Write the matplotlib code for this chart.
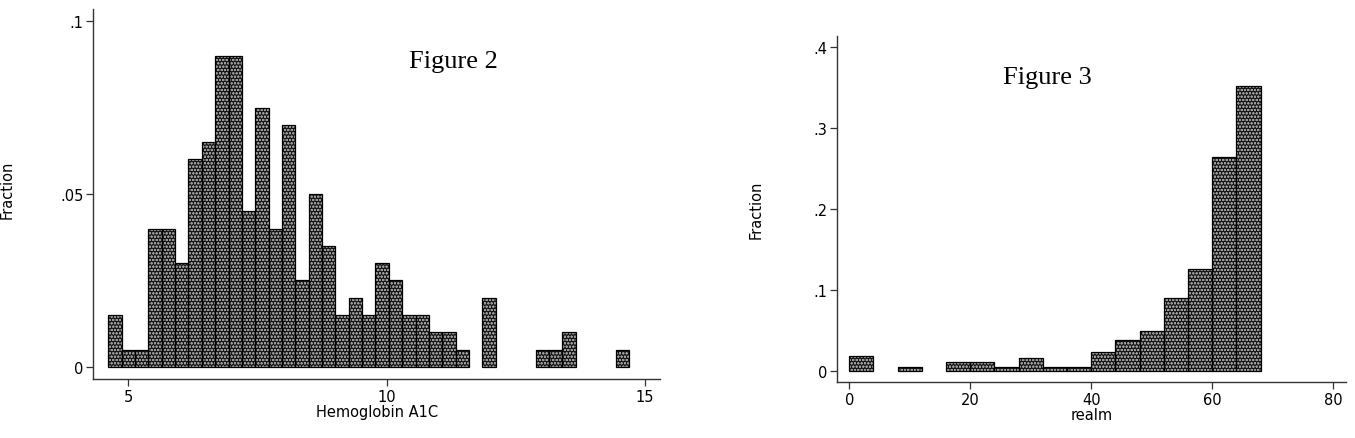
import numpy as np
import matplotlib
matplotlib.use('Agg')
import matplotlib.pyplot as plt

# Figure 2: Hemoglobin A1C, fraction per bin
a1c_start = 4.61
a1c_width = 0.2586
a1c_frac = [0.015, 0.005, 0.005, 0.04, 0.04, 0.03, 0.06, 0.065, 0.09, 0.09,
            0.045, 0.075, 0.04, 0.07, 0.025, 0.05, 0.035, 0.015, 0.02, 0.015,
            0.03, 0.025, 0.015, 0.015, 0.01, 0.01, 0.005, 0.0, 0.02, 0.0,
            0.0, 0.0, 0.005, 0.005, 0.01, 0.0, 0.0, 0.0, 0.005]
a1c_xticks = [5, 10, 15]
a1c_yticks = [0, 0.05, 0.1]
a1c_yticklabels = ['0', '.05', '.1']

# Figure 3: realm, fraction per bin
realm_start = 0
realm_width = 4
realm_frac = [0.018, 0.0, 0.005, 0.0, 0.011, 0.011, 0.005, 0.016, 0.005,
              0.005, 0.023, 0.038, 0.049, 0.09, 0.126, 0.264, 0.352]
realm_xticks = [0, 20, 40, 60, 80]
realm_yticks = [0, 0.1, 0.2, 0.3, 0.4]
realm_yticklabels = ['0', '.1', '.2', '.3', '.4']

plt.rcParams['font.family'] = ['DejaVu Sans']
plt.rcParams['hatch.linewidth'] = 0.6

W, H = 1355, 439
fig = plt.figure(figsize=(W / 100, H / 100), dpi=100)

LBL = 10.5


def px_axes(x0, x1, y_top, y_bot):
    return fig.add_axes([x0 / W, 1 - y_bot / H, (x1 - x0) / W, (y_bot - y_top) / H])


def draw_hist(ax, start, width, frac):
    frac = np.asarray(frac)
    lefts = start + width * np.arange(len(frac))
    keep = frac > 0
    # 网点填充
    ax.bar(lefts[keep], frac[keep], width=width, align='edge',
           color='#151515', edgecolor='#9a9a9a', hatch='ooooo', linewidth=0)
    ax.bar(lefts[keep], frac[keep], width=width, align='edge',
           fill=False, edgecolor='black', linewidth=0.9)


def style_axes(ax, xticks, yticks, yticklabels):
    for s in ['top', 'right']:
        ax.spines[s].set_visible(False)
    for s in ['left', 'bottom']:
        ax.spines[s].set_color('#333333')
        ax.spines[s].set_linewidth(1.0)
    ax.set_xticks(xticks)
    ax.set_yticks(yticks)
    ax.set_yticklabels(yticklabels)
    ax.tick_params(axis='both', direction='out', length=5, width=0.9,
                   labelsize=LBL, pad=2, color='#333333')


# left chart
ax1 = px_axes(93.3, 660, 10, 380)
draw_hist(ax1, a1c_start, a1c_width, a1c_frac)
style_axes(ax1, a1c_xticks, a1c_yticks, a1c_yticklabels)
ax1.set_xlim(4.32, 15.29)
ax1.set_ylim(-0.0035, 0.1035)
ax1.set_xlabel('Hemoglobin A1C', fontsize=LBL, labelpad=0)
fig.text(453 / W, 1 - 62 / H, 'Figure 2', family='Liberation Serif',
         fontsize=19, ha='center', va='center')
fig.text(7 / W, 1 - 190 / H, 'Fraction', rotation=90, fontsize=LBL,
         ha='center', va='center')

# right chart
ax2 = px_axes(837.3, 1346, 36.7, 383.3)
draw_hist(ax2, realm_start, realm_width, realm_frac)
style_axes(ax2, realm_xticks, realm_yticks, realm_yticklabels)
ax2.set_xlim(-1.98, 82.1)
ax2.set_ylim(-0.0144, 0.414)
ax2.set_xlabel('realm', fontsize=LBL, labelpad=0)
fig.text(756 / W, 1 - 210 / H, 'Fraction', rotation=90, fontsize=LBL,
         ha='center', va='center')
fig.text(1047 / W, 1 - 78 / H, 'Figure 3', family='Liberation Serif',
         fontsize=19, ha='center', va='center')

plt.savefig('out.png', dpi=100)
plt.close()
